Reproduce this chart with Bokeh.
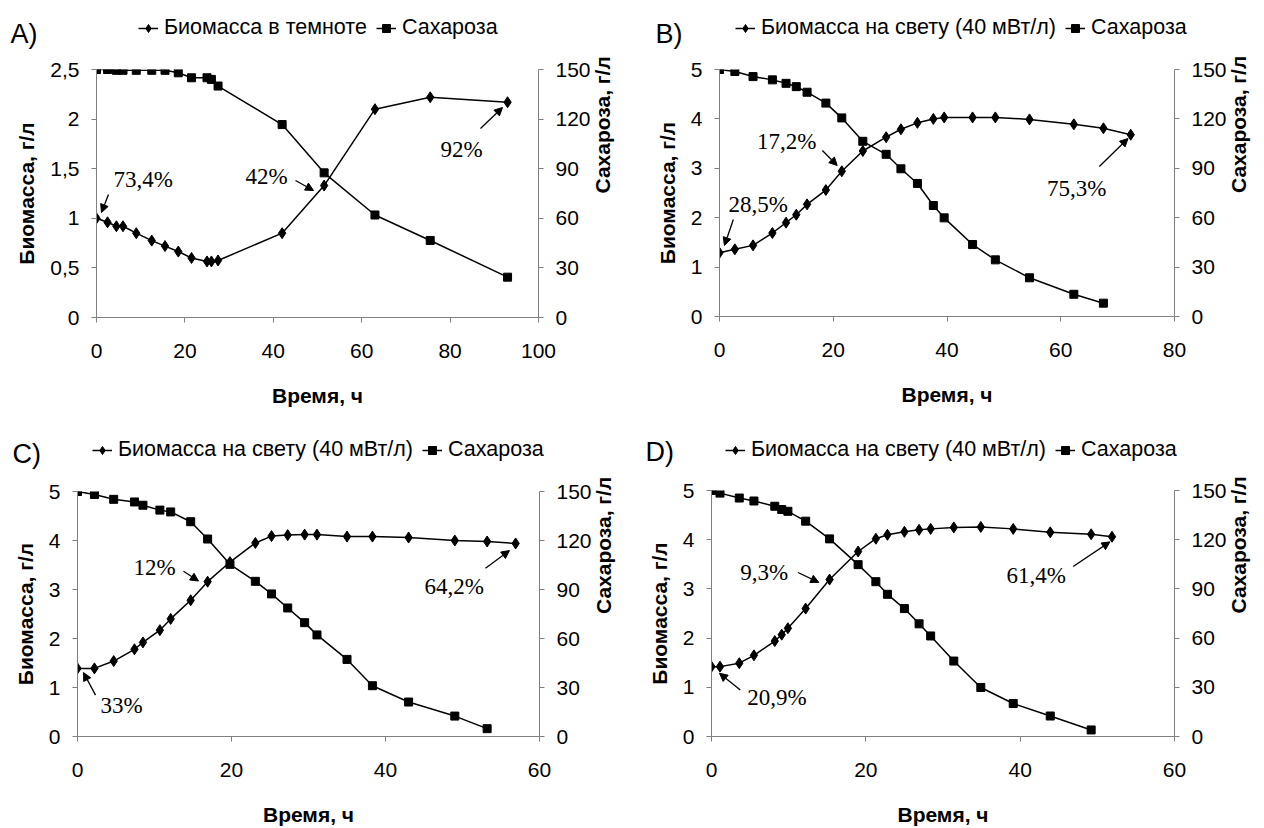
import math
from bokeh.plotting import figure
from bokeh.models import (Range1d, LinearAxis, Label, Arrow, NormalHead, Legend,
                          LegendItem, FixedTicker)
from bokeh.layouts import column, row
from bokeh.embed import file_html
from bokeh.resources import INLINE

# ---------------- data ----------------
A_time = [0, 2.5, 4.5, 6, 9, 12.5, 15.5, 18.5, 21.5, 25, 26, 27.5, 42, 51.5, 63, 75.5, 93]
A_biomass = [1.0, 0.96, 0.92, 0.92, 0.85, 0.775, 0.72, 0.665, 0.60, 0.565, 0.565, 0.575, 0.85, 1.33, 2.1, 2.22, 2.17]
A_suc_time = [0, 2.5, 4.5, 6, 9, 12.5, 15.5, 18.5, 21.5, 25, 26, 27.5, 42, 51.5, 63, 75.5, 93]
A_sucrose = [150, 150, 149.5, 149.5, 149.5, 149.5, 149.5, 148, 145, 145, 144, 140, 116.7, 87.5, 62, 46.6, 24.4]

B_time = [0, 2.7, 5.9, 9.3, 11.7, 13.5, 15.4, 18.7, 21.5, 25.2, 29.3, 31.9, 34.8, 37.6, 39.5, 44.5, 48.5, 54.5, 62.3, 67.5, 72.3]
B_biomass = [1.29, 1.36, 1.44, 1.69, 1.90, 2.06, 2.27, 2.56, 2.94, 3.35, 3.63, 3.79, 3.92, 4.00, 4.03, 4.03, 4.03, 3.99, 3.89, 3.81, 3.68]
B_suc_time = [0, 2.7, 5.9, 9.3, 11.7, 13.5, 15.4, 18.7, 21.5, 25.2, 29.3, 31.9, 34.8, 37.6, 39.5, 44.5, 48.5, 54.5, 62.3, 67.5]
B_sucrose = [150, 148.8, 145.7, 143.7, 141.6, 139.6, 136.2, 129.6, 120.6, 106.4, 98.5, 89.7, 80.8, 67.4, 59.9, 43.7, 34.4, 23.5, 13.5, 8.1]

C_time = [0, 2.2, 4.7, 7.4, 8.5, 10.7, 12.1, 14.7, 16.9, 19.8, 23.1, 25.2, 27.3, 29.5, 31.1, 35, 38.3, 43, 49, 53.2, 56.9]
C_biomass = [1.39, 1.39, 1.54, 1.78, 1.92, 2.17, 2.40, 2.78, 3.16, 3.56, 3.95, 4.09, 4.11, 4.12, 4.12, 4.08, 4.08, 4.06, 4.00, 3.98, 3.94]
C_suc_time = [0, 2.2, 4.7, 7.4, 8.5, 10.7, 12.1, 14.7, 16.9, 19.8, 23.1, 25.2, 27.3, 29.5, 31.1, 35, 38.3, 43, 49, 53.2]
C_sucrose = [150, 148.2, 145.2, 143.6, 141.6, 138.6, 137.5, 131.5, 120.9, 105.4, 95, 87.3, 78.7, 69.7, 62.2, 47.2, 31.1, 21.1, 12.5, 4.8]

D_time = [0, 1.1, 3.6, 5.5, 8.2, 9.1, 9.9, 12.2, 15.3, 19, 21.3, 22.8, 25, 26.9, 28.4, 31.4, 34.9, 39.1, 43.9, 49.2, 51.9]
D_biomass = [1.42, 1.42, 1.49, 1.65, 1.94, 2.07, 2.20, 2.60, 3.19, 3.76, 4.02, 4.10, 4.16, 4.20, 4.22, 4.25, 4.26, 4.22, 4.15, 4.11, 4.06]
D_suc_time = [0, 1.1, 3.6, 5.5, 8.2, 9.1, 9.9, 12.2, 15.3, 19, 21.3, 22.8, 25, 26.9, 28.4, 31.4, 34.9, 39.1, 43.9, 49.2]
D_sucrose = [150, 148.4, 145.4, 143.6, 140.4, 138.4, 137.3, 131.3, 120.5, 104.8, 94.4, 86.7, 78, 68.7, 61.3, 46, 29.9, 20.1, 12.5, 4.0]

A_bio_ticks = [0, 0.5, 1, 1.5, 2, 2.5]
A_bio_tick_labels = ["0", "0,5", "1", "1,5", "2", "2,5"]
BCD_bio_ticks = [0, 1, 2, 3, 4, 5]
suc_ticks = [0, 30, 60, 90, 120, 150]
A_x_ticks = [0, 20, 40, 60, 80, 100]
B_x_ticks = [0, 20, 40, 60, 80]
CD_x_ticks = [0, 20, 40, 60]

bio_legend_dark = "Биомасса в темноте"
bio_legend_light = "Биомасса на свету (40 мВт/л)"
suc_legend = "Сахароза"
x_title = "Время, ч"
y_title = "Биомасса, г/л"
y2_title = "Сахароза, г/л"

A_notes = ["73,4%", "42%", "92%"]
B_notes = ["17,2%", "28,5%", "75,3%"]
C_notes = ["12%", "33%", "64,2%"]
D_notes = ["9,3%", "20,9%", "61,4%"]

SANS = "Liberation Sans"
SERIF = "Liberation Serif"
AX_COL = "#808080"
W = 632
TOP_PAD = 15


def no_align(p):
    if "frame_align" in p.properties():
        p.frame_align = False


def bare(width, height):
    p = figure(width=width, height=height, x_range=Range1d(0, width), y_range=Range1d(0, height),
               output_backend="svg", toolbar_location=None,
               min_border_left=0, min_border_right=0, min_border_top=0, min_border_bottom=0,
               x_axis_location=None, y_axis_location=None)
    p.outline_line_color = None
    p.xgrid.visible = False
    p.ygrid.visible = False
    no_align(p)
    return p


def panel(letter, origin, frame, panel_h, xr, yr, xt, yt, ytl, t_bio, bio, t_suc, suc,
          bio_label, notes, note_pos, legend_pos, letter_pos):
    ox, oy = origin
    fx0, fy0, fx1, fy1 = frame
    hdr_h = fy0 - oy - TOP_PAD
    main_h = panel_h - hdr_h

    # ---- header: letter + legend ----
    hdr = bare(W, hdr_h)
    hdr.add_layout(Label(x=letter_pos[0] - ox, y=hdr_h - (letter_pos[1] - oy), text=letter,
                         text_font=SANS, text_font_size="27px", text_color="black",
                         text_baseline="middle", text_align="left"))
    hb_l = hdr.line(t_bio, bio, line_color="black", line_width=1.5, visible=False)
    hb_s = hdr.scatter(t_bio, bio, marker="diamond", size=11, color="black", visible=False)
    hs_l = hdr.line(t_suc, suc, line_color="black", line_width=1.5, visible=False)
    hs_s = hdr.scatter(t_suc, suc, marker="square", size=8, color="black", visible=False)
    leg = Legend(items=[LegendItem(label=bio_label, renderers=[hb_l, hb_s]),
                        LegendItem(label=suc_legend, renderers=[hs_l, hs_s])],
                 orientation="horizontal",
                 location=(legend_pos[0] - ox, hdr_h - (legend_pos[1] - oy) - 10),
                 border_line_color=None, background_fill_alpha=0,
                 padding=0, margin=0, spacing=9, label_standoff=6,
                 glyph_width=20, glyph_height=20, label_height=20,
                 label_text_font=SANS, label_text_font_size="21.5px", label_text_color="black")
    hdr.add_layout(leg)

    # ---- main plot ----
    p = figure(width=W, height=main_h, x_range=Range1d(*xr), y_range=Range1d(*yr),
               output_backend="svg", toolbar_location=None,
               min_border_left=fx0 - ox, min_border_right=ox + W - fx1,
               min_border_top=TOP_PAD, min_border_bottom=oy + panel_h - fy1,
               x_axis_location=None, y_axis_location=None)
    p.outline_line_color = None
    p.xgrid.visible = False
    p.ygrid.visible = False
    no_align(p)
    p.extra_y_ranges = {"s": Range1d(0, 150)}

    def px(x, y):
        dx = xr[0] + (x - fx0) / (fx1 - fx0) * (xr[1] - xr[0])
        dy = yr[0] + (fy1 - y) / (fy1 - fy0) * (yr[1] - yr[0])
        return dx, dy

    def style(ax, standoff, title, title_standoff):
        ax.axis_line_color = AX_COL
        ax.axis_line_width = 1
        ax.major_tick_line_color = AX_COL
        ax.major_tick_out = 5
        ax.major_tick_in = 0
        ax.minor_tick_line_color = None
        ax.major_label_text_font = SANS
        ax.major_label_text_font_size = "21px"
        ax.major_label_text_color = "black"
        ax.major_label_standoff = standoff
        ax.axis_label = title
        ax.axis_label_text_font = SANS
        ax.axis_label_text_font_style = "bold"
        ax.axis_label_text_font_size = "21px"
        ax.axis_label_text_color = "black"
        ax.axis_label_standoff = title_standoff

    xa = LinearAxis(ticker=FixedTicker(ticks=xt))
    style(xa, 21, x_title, 23)
    p.add_layout(xa, "below")
    ya = LinearAxis(ticker=FixedTicker(ticks=yt))
    ya.major_label_overrides = {t: l for t, l in zip(yt, ytl)}
    style(ya, 12, y_title, 9)
    p.add_layout(ya, "left")
    ya2 = LinearAxis(y_range_name="s", ticker=FixedTicker(ticks=suc_ticks))
    style(ya2, 12, y2_title, 9)
    if "axis_label_orientation" in LinearAxis.properties():
        ya2.axis_label_orientation = math.pi / 2
    p.add_layout(ya2, "right")

    p.line(t_bio, bio, line_color="black", line_width=1.5)
    p.scatter(t_bio, bio, marker="diamond", size=11, fill_color="black", line_color="black")
    p.line(t_suc, suc, line_color="black", line_width=1.5, y_range_name="s")
    p.scatter(t_suc, suc, marker="square", size=8, fill_color="black", line_color="black",
              y_range_name="s")

    for txt, (tx, ty, a0, a1) in zip(notes, note_pos):
        nx, ny = px(tx, ty)
        p.add_layout(Label(x=nx, y=ny, text=txt, text_font=SERIF, text_font_size="23px",
                           text_color="black", text_align="left", text_baseline="middle"))
        sx, sy = px(*a0)
        ex, ey = px(*a1)
        p.add_layout(Arrow(x_start=sx, y_start=sy, x_end=ex, y_end=ey, line_width=1.3,
                           line_color="black",
                           end=NormalHead(size=8, fill_color="black", line_color="black")))
    return column(hdr, p, spacing=0)


pA = panel("A)", (0, 0), (96, 69, 538, 317), 414, (0, 100), (0, 2.5), A_x_ticks, A_bio_ticks,
           A_bio_tick_labels, A_time, A_biomass, A_suc_time, A_sucrose, bio_legend_dark, A_notes,
           [(113, 179, (108, 194), (101, 212)), (245, 176, (295, 180), (313, 190)),
            (440, 149, (480, 128), (502, 107))],
           (138, 30), (10, 33))
pB = panel("B)", (632, 0), (719, 69, 1179, 316), 414, (0, 80), (0, 5), B_x_ticks, BCD_bio_ticks,
           [str(t) for t in BCD_bio_ticks], B_time, B_biomass, B_suc_time, B_sucrose,
           bio_legend_light, B_notes,
           [(757, 141, (823, 150), (838, 165)), (728, 204, (733, 219), (724, 245)),
            (1050, 188, (1103, 166), (1132, 138))],
           (735, 30), (655, 33))
pC = panel("C)", (0, 414), (77, 491, 539, 740), 414, (0, 60), (0, 5), CD_x_ticks, BCD_bio_ticks,
           [str(t) for t in BCD_bio_ticks], C_time, C_biomass, C_suc_time, C_sucrose,
           bio_legend_light, C_notes,
           [(133, 568, (183, 572), (198, 582)), (100, 709, (95, 698), (83, 675)),
            (424, 588, (485, 569), (509, 551))],
           (92, 452), (12, 453))
pD = panel("D)", (632, 414), (711, 490, 1177, 739), 414, (0, 60), (0, 5), CD_x_ticks, BCD_bio_ticks,
           [str(t) for t in BCD_bio_ticks], D_time, D_biomass, D_suc_time, D_sucrose,
           bio_legend_light, D_notes,
           [(740, 573, (798, 573), (819, 583)), (747, 700, (740, 692), (719, 675)),
            (1008, 576, (1075, 567), (1112, 542))],
           (725, 452), (645, 451))

layout = column(row(pA, pB, spacing=0), row(pC, pD, spacing=0), spacing=0)
open("out.html", "w").write(file_html(layout, INLINE))
